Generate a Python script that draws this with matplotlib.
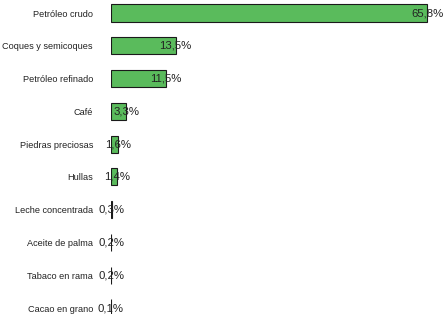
import matplotlib
matplotlib.use("Agg")
import matplotlib.pyplot as plt

categories = [
    "Petróleo crudo", "Coques y semicoques", "Petróleo refinado", "Café",
    "Piedras preciosas", "Hullas", "Leche concentrada", "Aceite de palma",
    "Tabaco en rama", "Cacao en grano",
]
shares = [65.8, 13.5, 11.5, 3.3, 1.6, 1.4, 0.3, 0.2, 0.2, 0.1]

plt.rcParams["font.family"] = ["Liberation Sans", "DejaVu Sans"]

fig = plt.figure(figsize=(4.43, 3.14), dpi=100)
ax = fig.add_axes([110.5 / 443, 0, 1 - 110.5 / 443, 1])

y = list(range(len(categories)))
ax.barh(y, shares, height=0.52, color="#5abb5c", edgecolor="#1a1a1a", linewidth=0.8)

for yi, v in zip(y, shares):
    ax.text(v, yi, f"{v:.1f}%".replace(".", ","), ha="center", va="center",
            fontsize=8.2, color="#222222", clip_on=False)

ax.set_ylim(9.183, -0.397)
ax.set_xlim(0, (443 - 110.5) / 4.815)
ax.set_yticks(y)
ax.set_yticklabels(categories, fontsize=6.6, color="#222222")
ax.tick_params(axis="y", length=0, pad=12.6)
ax.set_xticks([])
for s in ax.spines.values():
    s.set_visible(False)

fig.savefig("out.png", dpi=100)
